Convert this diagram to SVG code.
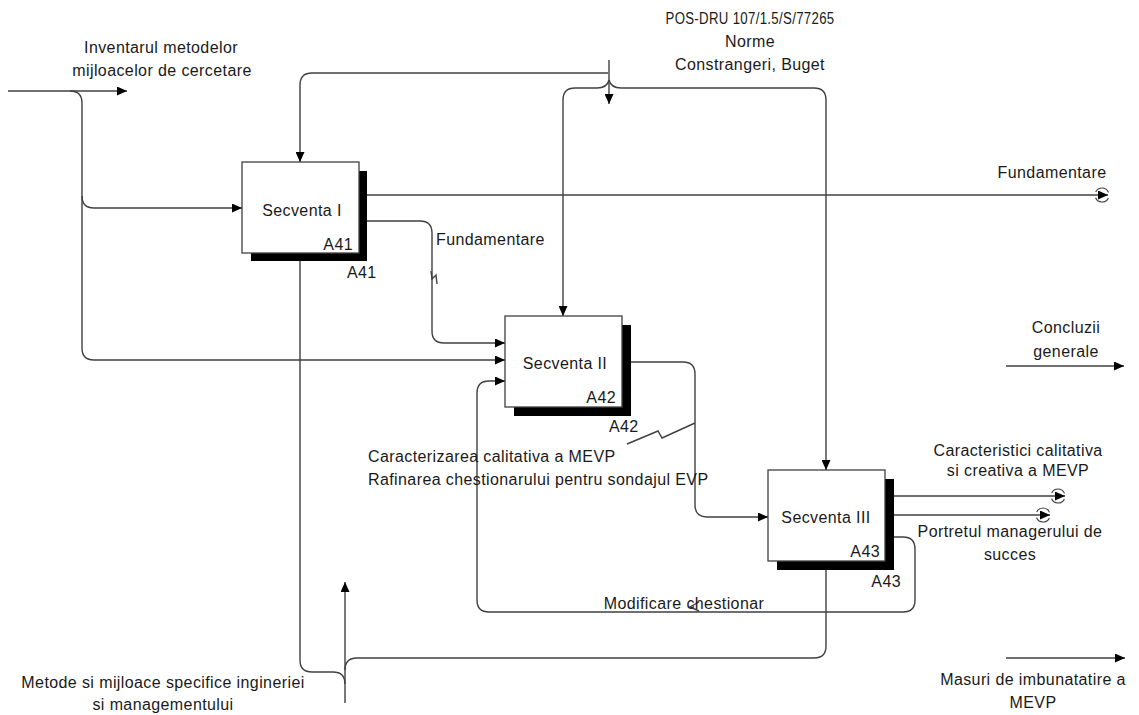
<svg xmlns="http://www.w3.org/2000/svg" width="1139" height="715" viewBox="0 0 1139 715">
  <style>
    .lbl { font-family: "Liberation Sans", Arial, sans-serif; font-size: 16px; letter-spacing: 0.4px; fill: #1a1a1a; }
    .mid { text-anchor: middle; }
    .end { text-anchor: end; }
    .box { fill: #ffffff; stroke: #404040; stroke-width: 1.3; }
    .shadow { fill: #000000; }
    .wire { fill: none; stroke: #404040; stroke-width: 1.4; }
    .arr { marker-end: url(#head); }
    .tunnel { fill: none; stroke: #404040; stroke-width: 1.2; stroke-dasharray: 0 3 16 6 16 3; }
  </style>
  <defs>
    <marker id="head" markerWidth="10" markerHeight="9" refX="10" refY="4.5" orient="auto" markerUnits="userSpaceOnUse">
      <path d="M0,0 L10,4.5 L0,9 z" fill="#000000"/>
    </marker>
  </defs>

  <rect width="1139" height="715" fill="#ffffff"/>

  <!-- connectors -->
  <g id="connectors">
    <!-- input from the left, branching to A41 and A42 -->
    <path class="wire arr" d="M8,91 L127,91"/>
    <path class="wire" d="M70,91 Q82,91 82,103 L82,196"/>
    <path class="wire arr" d="M82,196 Q82,208 94,208 L242,208"/>
    <path class="wire arr" d="M82,196 L82,348 Q82,360 94,360 L505,360"/>

    <!-- controls from the top -->
    <path class="wire arr" d="M609,60 L609,104"/>
    <path class="wire arr" d="M608,73 L312,73 Q300,73 300,85 L300,162"/>
    <path class="wire arr" d="M609,80 Q607,88 597,88 L575,88 Q563,88 563,100 L563,316"/>
    <path class="wire arr" d="M609,80 Q611,88 621,88 L814,88 Q826,88 826,100 L826,470"/>

    <!-- A41 outputs -->
    <path class="wire arr" d="M359,195 L1108,195"/>
    <circle class="tunnel" cx="1102" cy="195" r="7"/>
    <path class="wire arr" d="M359,221 L420,221 Q432,221 432,233 L432,331 Q432,343 444,343 L505,343"/>
    <path class="wire" d="M431,271 L432,279 L436,275 L437,284"/>

    <!-- A42 output to A43 -->
    <path class="wire arr" d="M622,362 L683,362 Q695,362 695,374 L695,505 Q695,517 707,517 L768,517"/>
    <path class="wire" d="M627,444 L658,431 L662,438 L695,423"/>

    <!-- A43 outputs -->
    <path class="wire arr" d="M885,496 L1065,496"/>
    <circle class="tunnel" cx="1058" cy="496" r="7"/>
    <path class="wire arr" d="M885,515 L1050,515"/>
    <circle class="tunnel" cx="1043" cy="515" r="7"/>

    <!-- feedback loop from A43 back to A42 -->
    <path class="wire arr" d="M885,537 L903,537 Q915,537 915,549 L915,600 Q915,612 903,612 L489,612 Q477,612 477,600 L477,393 Q477,381 489,381 L505,381"/>
    <path class="wire" d="M699,602 L690,607 L699,611"/>

    <!-- mechanism from below -->
    <path class="wire arr" d="M345,703 L345,582"/>
    <path class="wire" d="M300,261 L300,660 Q300,672 312,672 L333,672 Q345,672 345,684"/>
    <path class="wire" d="M345,670 Q345,658 357,658 L814,658 Q826,658 826,646 L826,570"/>

    <!-- outputs on the right margin -->
    <path class="wire arr" d="M1006,366 L1124,366"/>
    <path class="wire arr" d="M1006,658 L1125,658"/>
  </g>

  <!-- activity A41 -->
  <g id="node-a41">
    <rect class="shadow" x="251" y="171" width="116" height="90"/>
    <rect class="box" x="242" y="162" width="117" height="91"/>
    <text class="lbl mid" x="302" y="216">Secventa I</text>
    <text class="lbl end" x="353" y="250">A41</text>
    <text class="lbl" x="347" y="278">A41</text>
  </g>

  <!-- activity A42 -->
  <g id="node-a42">
    <rect class="shadow" x="514" y="325" width="117" height="91"/>
    <rect class="box" x="505" y="316" width="117" height="91"/>
    <text class="lbl mid" x="565" y="369">Secventa II</text>
    <text class="lbl end" x="616" y="403">A42</text>
    <text class="lbl" x="609" y="432">A42</text>
  </g>

  <!-- activity A43 -->
  <g id="node-a43">
    <rect class="shadow" x="777" y="479" width="117" height="91"/>
    <rect class="box" x="768" y="470" width="117" height="91"/>
    <text class="lbl mid" x="826" y="523">Secventa III</text>
    <text class="lbl end" x="880" y="557">A43</text>
    <text class="lbl end" x="901" y="587">A43</text>
  </g>

  <!-- arrow labels -->
  <g id="labels">
    <text class="lbl mid" x="750" y="24" textLength="169" lengthAdjust="spacingAndGlyphs">POS-DRU 107/1.5/S/77265</text>
    <text class="lbl mid" x="750" y="47">Norme</text>
    <text class="lbl mid" x="750" y="70">Constrangeri, Buget</text>

    <text class="lbl mid" x="161" y="53">Inventarul metodelor</text>
    <text class="lbl mid" x="162" y="76">mijloacelor de cercetare</text>

    <text class="lbl" x="436" y="245">Fundamentare</text>
    <text class="lbl mid" x="1052" y="178">Fundamentare</text>

    <text class="lbl" x="368" y="462">Caracterizarea calitativa a MEVP</text>
    <text class="lbl" x="368" y="485">Rafinarea chestionarului pentru sondajul EVP</text>

    <text class="lbl mid" x="1018" y="456">Caracteristici calitativa</text>
    <text class="lbl mid" x="1018" y="476">si creativa a MEVP</text>
    <text class="lbl mid" x="1010" y="537">Portretul managerului de</text>
    <text class="lbl mid" x="1010" y="560">succes</text>

    <text class="lbl mid" x="1066" y="333">Concluzii</text>
    <text class="lbl mid" x="1066" y="357">generale</text>

    <text class="lbl mid" x="684" y="609">Modificare chestionar</text>

    <text class="lbl mid" x="163" y="688">Metode si mijloace specifice ingineriei</text>
    <text class="lbl mid" x="163" y="710">si managementului</text>

    <text class="lbl mid" x="1033" y="685">Masuri de imbunatatire a</text>
    <text class="lbl mid" x="1033" y="708">MEVP</text>
  </g>
</svg>
